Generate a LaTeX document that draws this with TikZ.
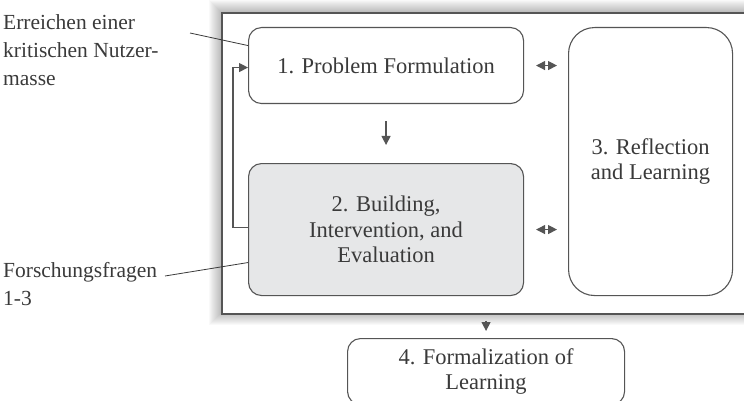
\documentclass[tikz,border=0pt]{standalone}
\usepackage{fontspec}
\setmainfont{Liberation Serif}
\usetikzlibrary{arrows.meta}
\definecolor{ink}{HTML}{3A3A3A}
\definecolor{edge}{HTML}{555555}
\definecolor{panel}{HTML}{E6E7E8}

\begin{document}
\begin{tikzpicture}[x=1pt,y=-1pt,
  stage/.style={draw=edge, line width=1.1pt, rounded corners=13pt, align=center,
    text=ink, font=\fontsize{22.5}{25.5}\selectfont, inner sep=0pt, anchor=north west},
  note/.style={align=left, text=ink, font=\fontsize{21.5}{28}\selectfont,
    inner sep=0pt, anchor=north west},
  tip/.tip={Triangle[length=9pt,width=9pt]},
  arr/.style={draw=edge, line width=1.2pt, -tip},
  darr/.style={draw=edge, line width=1.2pt, tip-tip},
  pointer/.style={draw=ink, line width=0.8pt}]

\useasboundingbox (0,0) rectangle (744,401);
\clip (0,0) rectangle (744,401);

% soft shadow around the enclosing frame
\foreach \i in {1,...,12}
  \fill[black, opacity=0.025] (221-\i,12-\i) rectangle (781+\i,313+\i);
\node[draw=edge, line width=1.6pt, fill=white, anchor=north west,
      minimum width=560pt, minimum height=301pt, inner sep=0pt] (frame) at (221,12) {};

% stages
\node[stage, minimum width=275pt, minimum height=76pt] (b1) at (248,27)
  {1. Problem Formulation};
\node[stage, fill=panel, minimum width=275pt, minimum height=132pt] (b2) at (248,163)
  {2. Building,\\Intervention, and\\Evaluation};
\node[stage, rounded corners=26pt, minimum width=164pt, minimum height=268pt] (b3) at (568,27)
  {3. Reflection\\and Learning};
\node[stage, minimum width=277pt, minimum height=66pt] (b4) at (347,338)
  {4. Formalization of\\Learning};

% flow between stages
\draw[arr, shorten <=17pt, shorten >=18pt] (b1.south) -- (b2.north);
\draw[darr, shorten <=12pt, shorten >=11pt] (b1.east) -- (b1.east -| b3.west);
\draw[darr, shorten <=12pt, shorten >=11pt] (b2.east) -- (b2.east -| b3.west);
\draw[arr] ([yshift=2pt]b2.west) -- ++(-15,0) |- ([yshift=-2pt]b1.west);
\coordinate (f4) at (b4.north |- frame.south);
\draw[arr, shorten <=6pt, shorten >=7pt] (f4) -- (b4.north);

% side notes
\node[note] (n1) at (3,14) {Erreichen einer\\kritischen Nutzer-\\masse};
\node[note] (n2) at (3,262) {Forschungsfragen\\1-3};
\coordinate (p1) at (190,33);
\coordinate (p2) at (165,276);
\draw[pointer] (p1) -- ([yshift=20pt]b1.west);
\draw[pointer] (p2) -- ([yshift=-33pt]b2.west);
\end{tikzpicture}
\end{document}
